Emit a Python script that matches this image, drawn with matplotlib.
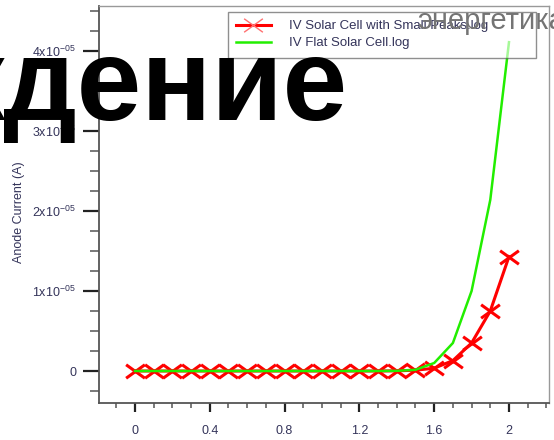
import numpy as np
import matplotlib
matplotlib.use("Agg")
import matplotlib.pyplot as plt
from matplotlib.path import Path
from matplotlib.ticker import MultipleLocator, FuncFormatter

plt.rcParams["font.family"] = ["Liberation Sans", "DejaVu Sans"]
plt.rcParams["mathtext.fontset"] = "custom"
plt.rcParams["mathtext.rm"] = "Liberation Sans"
plt.rcParams["mathtext.default"] = "regular"

# anode voltage sweep (V) and measured currents (A)
voltage = [0.0, 0.1, 0.2, 0.3, 0.4, 0.5, 0.6, 0.7, 0.8, 0.9, 1.0,
           1.1, 1.2, 1.3, 1.4, 1.5, 1.6, 1.7, 1.8, 1.9, 2.0]
current_peaks = [0, 0, 0, 0, 0, 0, 0, 0, 0, 0, 0,
                 0, 0, 0, 0.002e-5, 0.01e-5, 0.035e-5, 0.13e-5, 0.35e-5, 0.75e-5, 1.43e-5]
current_flat = [0, 0, 0, 0, 0, 0, 0, 0, 0, 0, 0,
                0, 0, 0, 0.002e-5, 0.015e-5, 0.1e-5, 0.35e-5, 1.0e-5, 2.14e-5, 4.11e-5]

label_peaks = "IV Solar Cell with Small Peaks.log"
label_flat = "IV Flat Solar Cell.log"
text_col = "#34345a"

# wide x-shaped marker
cross = Path([(-1, -0.72), (1, 0.72), (-1, 0.72), (1, -0.72)],
             [Path.MOVETO, Path.LINETO, Path.MOVETO, Path.LINETO])

fig = plt.figure(figsize=(5.54, 4.40), dpi=100)
ax = fig.add_axes([99 / 554, 37 / 440, 450 / 554, 397 / 440])

ax.plot(voltage, current_peaks, color="#ff0000", lw=2.2, marker=cross,
        ms=13.5, mew=2.2, label=label_peaks, zorder=3)
ax.plot(voltage, current_flat, color="#22ee00", lw=1.8, label=label_flat, zorder=4)

ax.set_xlim(-0.1925, 2.214)
ax.set_ylim(-0.4e-5, 4.5625e-5)

ax.xaxis.set_major_locator(MultipleLocator(0.4))
ax.xaxis.set_minor_locator(MultipleLocator(0.1))
ax.yaxis.set_major_locator(MultipleLocator(1e-5))
ax.yaxis.set_minor_locator(MultipleLocator(0.25e-5))


def sci_label(v, pos):
    m = int(round(v / 1e-5))
    if m == 0:
        return "0"
    return f"{m}x10$^{{-05}}$"


ax.yaxis.set_major_formatter(FuncFormatter(sci_label))
ax.xaxis.set_major_formatter(FuncFormatter(lambda v, p: f"{v:g}"))

ax.tick_params(axis="y", which="major", length=11.5, width=1.6, color="#222222",
               pad=5, labelsize=9, labelcolor=text_col)
ax.tick_params(axis="y", which="minor", length=6.5, width=1.1, color="#555555")
ax.tick_params(axis="x", which="major", length=6.5, width=1.6, color="#222222",
               pad=9, labelsize=9, labelcolor=text_col)
ax.tick_params(axis="x", which="minor", length=3.5, width=1.1, color="#555555")

for side in ["left", "bottom"]:
    ax.spines[side].set_color("#555555")
    ax.spines[side].set_linewidth(1.3)
for side in ["top", "right"]:
    ax.spines[side].set_color("#999999")
    ax.spines[side].set_linewidth(1.0)

ax.set_ylabel("Anode Current (A)", fontsize=9, color=text_col)
ax.yaxis.set_label_coords(-0.165, 0.481)

leg = ax.legend(loc="upper left", bbox_to_anchor=(0.286, 0.986, 0.684, 0.0),
                mode="expand", fontsize=9.5, frameon=True, fancybox=False,
                framealpha=0.6, edgecolor="#444444", borderaxespad=0,
                handlelength=2.6, handletextpad=1.4, labelspacing=0.35,
                borderpad=0.65, labelcolor=text_col)
leg.get_frame().set_linewidth(1.0)
leg.set_zorder(5)
for ln in leg.get_lines():
    if ln.get_label() == label_peaks:
        ln.set_markeredgecolor("#ff7070")
        ln.set_markeredgewidth(1.0)

# overlay captions
fig.text(348.5 / 554, 1 - 120 / 440, "ждение", fontsize=83.5, fontweight="bold",
         color="black", ha="right", va="baseline", zorder=10)
fig.text(417 / 554, 1 - 29 / 440, "энергетика", fontsize=21, color="#747474",
         ha="left", va="baseline", zorder=10)

fig.savefig("out.png", dpi=100)
